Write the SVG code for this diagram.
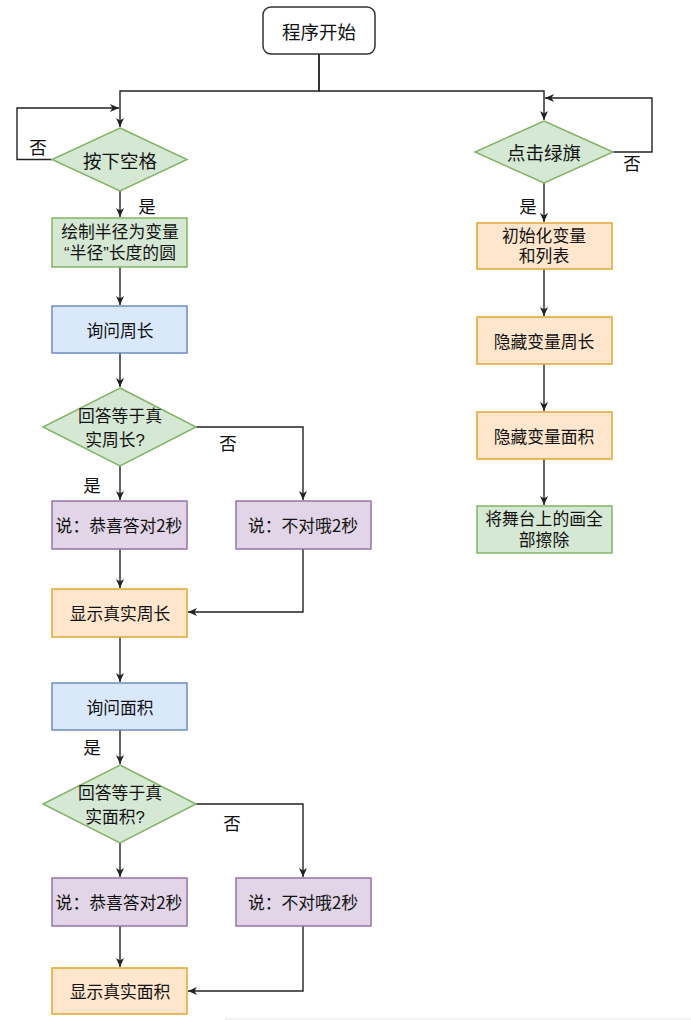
<svg xmlns="http://www.w3.org/2000/svg" width="691" height="1020" viewBox="0 0 691 1020">
<style>
text{font-family:"Microsoft YaHei","Noto Sans CJK SC","Noto Sans",sans-serif;fill:#111;text-anchor:middle;dominant-baseline:central}
.ml{font-family:"Liberation Sans","Noto Sans CJK SC",sans-serif}
.t17{font-size:16.8px}
.t19{font-size:18.5px}
.lbl{font-size:17.5px}
.start{fill:#fff;stroke:#333;stroke-width:1.5}
.green{fill:#d5e8d4;stroke:#82b366;stroke-width:1.5}
.blue{fill:#dae8fc;stroke:#6c8ebf;stroke-width:1.5}
.purple{fill:#e1d5e7;stroke:#9673a6;stroke-width:1.5}
.orange{fill:#ffe6cc;stroke:#e2a72e;stroke-width:1.5}
.edge{fill:none;stroke:#222;stroke-width:1.4}
</style>
<defs>
<marker id="arr" markerUnits="userSpaceOnUse" markerWidth="10" markerHeight="10" refX="9" refY="4" orient="auto">
<path d="M0,0 L9,4 L0,8 L2.5,4 z" fill="#222"/>
</marker>
</defs>
<rect width="691" height="1020" fill="#fff"/>
<line x1="225" y1="1019" x2="691" y2="1019" stroke="#e4e4e4" stroke-width="1.2"/>

<g id="connectors">
<path class="edge" d="M319,54 V91 H120 V127" marker-end="url(#arr)"/>
<path class="edge" d="M319,54 V91 H544 V120" marker-end="url(#arr)"/>
<path class="edge" d="M52,159.5 H17 V108 H119" marker-end="url(#arr)"/>
<path class="edge" d="M613,152 H652 V98 H545" marker-end="url(#arr)"/>
<path class="edge" d="M120,191 V217" marker-end="url(#arr)"/>
<path class="edge" d="M120,267 V305" marker-end="url(#arr)"/>
<path class="edge" d="M120,353 V387" marker-end="url(#arr)"/>
<path class="edge" d="M120,466 V500" marker-end="url(#arr)"/>
<path class="edge" d="M196,427 H303 V500" marker-end="url(#arr)"/>
<path class="edge" d="M120,549 V588" marker-end="url(#arr)"/>
<path class="edge" d="M303,549 V612 H188" marker-end="url(#arr)"/>
<path class="edge" d="M120,637 V682" marker-end="url(#arr)"/>
<path class="edge" d="M120,730 V764" marker-end="url(#arr)"/>
<path class="edge" d="M120,843 V877" marker-end="url(#arr)"/>
<path class="edge" d="M196,804 H303 V877" marker-end="url(#arr)"/>
<path class="edge" d="M120,926 V967" marker-end="url(#arr)"/>
<path class="edge" d="M303,926 V991 H188" marker-end="url(#arr)"/>
<path class="edge" d="M544,183 V222" marker-end="url(#arr)"/>
<path class="edge" d="M544,269 V316" marker-end="url(#arr)"/>
<path class="edge" d="M544,364 V411" marker-end="url(#arr)"/>
<path class="edge" d="M544,459 V505" marker-end="url(#arr)"/>
<text class="lbl" x="38" y="146">否</text>
<text class="lbl" x="147" y="205">是</text>
<text class="lbl" x="632" y="162">否</text>
<text class="lbl" x="528" y="205">是</text>
<text class="lbl" x="228" y="442">否</text>
<text class="lbl" x="92" y="484">是</text>
<text class="lbl" x="92" y="746">是</text>
<text class="lbl" x="232" y="822">否</text>
</g>

<g id="start">
<rect class="start" x="263" y="7" width="112" height="47" rx="8"/>
<text class="t19" x="319" y="31">程序开始</text>
</g>

<g id="press-space">
<polygon class="green" points="120,128 187,159.5 120,191 52,159.5"/>
<text class="t19" x="120" y="160">按下空格</text>
</g>

<g id="draw-circle">
<rect class="green" x="52" y="218" width="135" height="49"/>
<text class="t17 ml"><tspan x="120" y="232">绘制半径为变量</tspan><tspan x="120" y="253">“半径”长度的圆</tspan></text>
</g>

<g id="ask-perimeter">
<rect class="blue" x="52" y="306" width="135" height="47"/>
<text class="t17" x="120" y="330">询问周长</text>
</g>

<g id="check-perimeter">
<polygon class="green" points="120,388 196,427 120,466 43,427"/>
<text class="t17 ml"><tspan x="120" y="416">回答等于真</tspan><tspan x="115" y="440">实周长?</tspan></text>
</g>

<g id="say-correct-1">
<rect class="purple" x="52" y="501" width="135" height="48"/>
<text class="t17" x="119" y="525">说：恭喜答对2秒</text>
</g>

<g id="say-wrong-1">
<rect class="purple" x="236" y="501" width="135" height="48"/>
<text class="t17" x="303" y="525">说：不对哦2秒</text>
</g>

<g id="show-perimeter">
<rect class="orange" x="52" y="589" width="135" height="48"/>
<text class="t17" x="120" y="613">显示真实周长</text>
</g>

<g id="ask-area">
<rect class="blue" x="52" y="683" width="135" height="47"/>
<text class="t17" x="120" y="707">询问面积</text>
</g>

<g id="check-area">
<polygon class="green" points="120,765 196,804 120,843 43,804"/>
<text class="t17 ml"><tspan x="120" y="793">回答等于真</tspan><tspan x="115" y="817">实面积?</tspan></text>
</g>

<g id="say-correct-2">
<rect class="purple" x="52" y="878" width="135" height="48"/>
<text class="t17" x="119" y="902">说：恭喜答对2秒</text>
</g>

<g id="say-wrong-2">
<rect class="purple" x="236" y="878" width="135" height="48"/>
<text class="t17" x="303" y="902">说：不对哦2秒</text>
</g>

<g id="show-area">
<rect class="orange" x="52" y="968" width="135" height="46"/>
<text class="t17" x="120" y="991">显示真实面积</text>
</g>

<g id="green-flag">
<polygon class="green" points="544,121 613,152 544,183 475,152"/>
<text class="t19" x="544" y="152">点击绿旗</text>
</g>

<g id="init-vars">
<rect class="orange" x="477" y="223" width="135" height="46"/>
<text class="t17 ml"><tspan x="544" y="236">初始化变量</tspan><tspan x="544" y="256">和列表</tspan></text>
</g>

<g id="hide-perimeter">
<rect class="orange" x="477" y="317" width="135" height="47"/>
<text class="t17" x="544" y="341">隐藏变量周长</text>
</g>

<g id="hide-area">
<rect class="orange" x="477" y="412" width="135" height="47"/>
<text class="t17" x="544" y="436">隐藏变量面积</text>
</g>

<g id="clear-stage">
<rect class="green" x="477" y="506" width="135" height="47"/>
<text class="t17 ml"><tspan x="544" y="519">将舞台上的画全</tspan><tspan x="544" y="540">部擦除</tspan></text>
</g>
</svg>
